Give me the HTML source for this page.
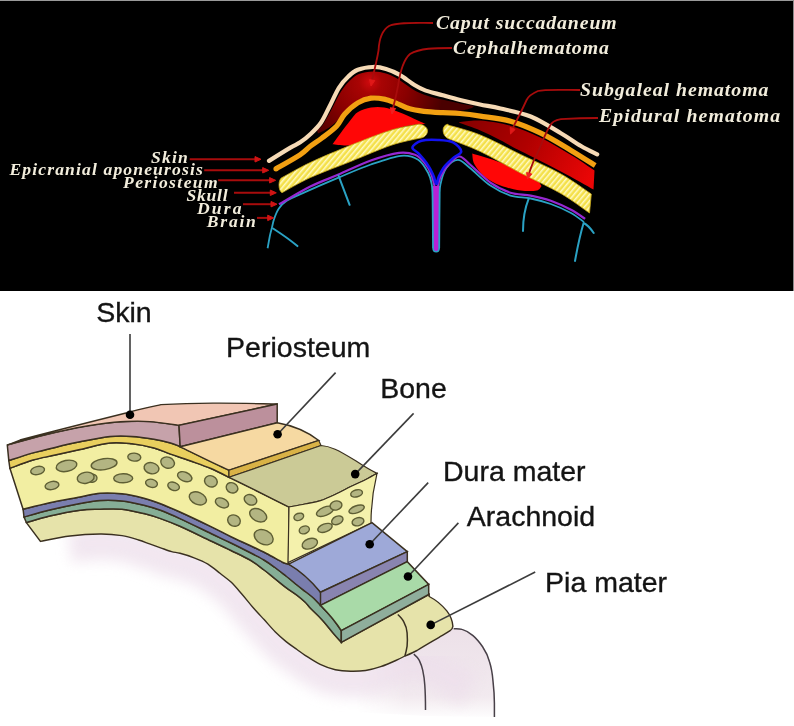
<!DOCTYPE html>
<html><head><meta charset="utf-8"><style>
html,body{margin:0;padding:0;background:#fff;}
svg{display:block;filter:blur(0.4px);}
</style></head><body>
<svg width="794" height="726" viewBox="0 0 794 726">
<rect width="794" height="726" fill="#fff"/>
<rect x="0" y="0" width="794" height="291" fill="#000"/>
<rect x="0" y="0" width="794" height="1" fill="#9a9a9a"/>
<rect x="793" y="0" width="1" height="291" fill="#8a8a8a"/>
<defs><radialGradient id="gcap" cx="370" cy="82" r="75" gradientUnits="userSpaceOnUse"><stop offset="0" stop-color="#d00a0e"/><stop offset="0.15" stop-color="#a80404"/><stop offset="0.5" stop-color="#8a0000"/><stop offset="1" stop-color="#4a0000"/></radialGradient><linearGradient id="gsub" x1="470" y1="120" x2="590" y2="185" gradientUnits="userSpaceOnUse"><stop offset="0" stop-color="#8a0000"/><stop offset="0.45" stop-color="#b00000"/><stop offset="1" stop-color="#ec0606"/></linearGradient><pattern id="hatch" patternUnits="userSpaceOnUse" width="4" height="4" patternTransform="rotate(40)"><rect width="4" height="4" fill="#f4e04a"/><rect x="0" y="0" width="1.5" height="4" fill="#fffac4"/></pattern></defs>
<path d="M317 130 C318 129.1 320.6 127.9 323 124.5 C325.4 121.1 328.5 115 331.5 109.5 C334.5 104 337.9 96.3 341 91.5 C344.1 86.7 347 83.4 350 80.5 C353 77.6 355.2 75.5 359 74 C362.8 72.5 368.5 71.6 373 71.5 C377.5 71.4 381.8 72.2 386 73.4 C390.2 74.7 393.5 76.3 398 79 C402.5 81.7 408.5 86.8 413 89.5 C417.5 92.2 420.2 93.3 425 95 C429.8 96.7 436.2 98.2 442 99.6 C447.8 101 454.7 102.5 460 103.6 C465.3 104.7 471.7 105.6 474 106 L472 108 C470 108.5 465 110.4 460 110.8 C455 111.2 448 110.5 442 110.2 C436 109.9 429.5 109.7 424 109 C418.5 108.3 413.7 107.6 409 106.2 C404.3 104.8 400.2 102.1 396 100.5 C391.8 98.9 388.2 97.5 384 96.8 C379.8 96 375.3 95.4 371 96 C366.7 96.6 362.2 97.8 358 100.5 C353.8 103.2 348.8 109.2 346 112 C343.2 114.8 344.2 114.5 341.5 117 C338.8 119.5 333.9 124.2 330 127 C326.1 129.8 320 132.4 318 133.5 Z" fill="url(#gcap)"/>
<path d="M332.5 144.3 C333.8 142.6 337 138.1 340 134 C343 129.9 347.6 123.7 350.6 120 C353.6 116.3 354.6 114.1 358 112 C361.4 109.9 366.6 108.3 371 107.6 C375.4 106.9 379.5 106.8 384.2 107.6 C388.9 108.4 394.2 110.4 399.3 112.3 C404.4 114.2 410.1 117 414.5 119 C418.9 121 423.9 123.2 425.8 124 L425.8 124 C423.2 124.2 415.8 124.5 410 125.5 C404.2 126.5 397.7 128 391 130.2 C384.3 132.4 376.7 136 370 138.5 C363.3 141 356.9 144.3 350.6 145.3 C344.4 146.3 335.5 144.5 332.5 144.3 Z" fill="#ff0606"/>
<path d="M459.1 122.2 C462.6 121.9 471.7 120 480.3 120.6 C488.9 121.2 500.4 122.9 510.5 125.8 C520.6 128.7 530.7 132.9 540.8 137.8 C550.9 142.7 562 149.6 571 155 C580 160.4 590.6 167.9 594.5 170.5 L593.5 189.5 C588.1 186.5 573 177.9 560.9 171.5 C548.8 165.1 530.8 156.2 520.6 151 C510.5 145.8 506.7 143.4 500 140 C493.3 136.6 487.1 133.4 480.3 130.5 C473.5 127.6 462.6 124.1 459.1 122.8 Z" fill="url(#gsub)"/>
<path d="M472.2 153.5 C476.9 155 491.8 159 500.5 162.5 C509.2 166 518.6 171.6 524.6 174.5 C530.6 177.4 533.9 178.1 536.7 180 C539.5 181.9 540.7 185 541.5 186 L541.5 186 C540.7 186.8 540.2 189.8 536.7 190.5 C533.2 191.2 526.6 191.3 520.6 190.5 C514.6 189.7 506.6 187.8 500.5 185.5 C494.4 183.2 488.7 180.1 484.3 176.5 C479.9 172.9 476.3 167.8 474.3 164 C472.3 160.2 472.6 155.2 472.2 153.5 Z" fill="#ff0606"/>
<path d="M269 160.9 C272.5 158.7 284.8 151 290 147.9 C295.2 144.8 296.9 144.5 300.2 142.3 C303.5 140.1 306.6 137.8 310 134.5 C313.4 131.2 317.7 127.3 320.9 122.7 C324.1 118.1 326.4 112.5 329.4 106.7 C332.4 100.9 335.8 92.8 338.9 87.8 C342 82.8 345.1 79.5 348.3 76.5 C351.5 73.5 353.7 71.4 357.8 69.8 C361.9 68.2 368.2 67.2 372.9 67 C377.6 66.8 381.7 67.6 386.1 68.9 C390.5 70.2 394.6 71.9 399.3 74.6 C404 77.3 410.1 82.3 414.5 85 C418.9 87.7 421.1 88.9 425.8 90.6 C430.5 92.3 437.1 93.7 442.8 95.3 C448.5 96.9 454 98.5 460.2 100 C466.4 101.5 473.3 103.1 480 104.5 C486.7 105.9 492.1 106.5 500.5 108.5 C508.9 110.5 520.6 112.4 530.7 116.5 C540.8 120.6 552.5 128.3 560.9 133.2 C569.3 138.1 575 142.5 581 146 C587 149.5 594.5 153 597.2 154.4" fill="none" stroke="#f6dab6" stroke-width="4.2" stroke-linecap="round"/>
<path d="M276 168.8 C280 166.5 294.3 158.7 300 154.9 C305.7 151.2 306.6 149.1 310.3 146.3 C314 143.5 317.6 141.3 322 138 C326.4 134.7 332.7 130.2 336.5 126.2 C340.3 122.2 341.1 118.1 344.6 114.2 C348.2 110.3 353.4 105.6 357.8 102.9 C362.2 100.2 366.6 98.8 371 98.2 C375.4 97.6 380.1 98.3 384.2 99.1 C388.3 99.9 391.5 101.3 395.6 102.9 C399.7 104.5 404.1 107.2 408.8 108.6 C413.5 110 418.2 110.7 423.9 111.4 C429.6 112.1 436.8 112.4 442.8 112.7 C448.8 113 453.8 112.9 460 113.5 C466.2 114.1 471.9 114.8 480.3 116.1 C488.7 117.4 500.4 118.4 510.5 121.2 C520.6 124 530.7 128.3 540.8 133.2 C550.9 138.1 561.9 145 571 150.4 C580.1 155.8 591.2 163 595.2 165.5" fill="none" stroke="#f2a012" stroke-width="5.2" stroke-linecap="butt"/>
<circle cx="276" cy="168.8" r="2.6" fill="#f2a012"/>
<path d="M282 177.6 C286.7 175.1 298.9 167.9 310.3 162.5 C321.7 157.1 337.2 150.7 350.6 145.3 C364.1 139.9 379.6 133.7 391 130.2 C402.4 126.7 414.3 125.2 419 124.2 C424 124.5 428 128 427.5 131.5 C427 135 424 138 419 138.3 C414.3 139.5 402.4 141.4 391 145.3 C379.6 149.2 364.1 156.1 350.6 161.5 C337.2 166.9 321.7 172.4 310.3 177.6 C298.9 182.8 286.7 190.2 282 192.7 C278 191 278 179 282 177.6 Z" fill="url(#hatch)" stroke="#c8a818" stroke-width="0.8" stroke-linejoin="round"/>
<path d="M448 125 C453.4 126.7 468.2 130.1 480.3 135 C492.4 139.9 507.2 148 520.6 154.5 C534 161 549.1 167.4 560.9 174 C572.7 180.6 586.2 190.7 591.3 194 L589.5 213 C584.7 209.8 572.4 200.2 560.9 193.5 C549.4 186.8 534 180 520.6 173 C507.2 166 492.4 157.2 480.3 151.5 C468.2 145.8 453.4 140.7 448 138.5 C442 136 441 125 448 124.2 Z" fill="url(#hatch)" stroke="#c8a818" stroke-width="0.8" stroke-linejoin="round"/>
<path d="M432.6 186 L433 248 C433.1 250.5 434.5 251.8 436.2 251.8 C437.9 251.8 439.1 250.5 439.2 248 L440 186 Z" fill="#b820d6"/>
<path d="M267.6 248.3 C268 246.3 269.1 239.7 269.8 236.2 C270.5 232.7 271.3 230.3 272 227.4 C272.7 224.5 273.1 221.7 274.2 218.6 C275.3 215.5 276.7 211.6 278.7 208.7 C280.7 205.8 282 203.8 286.4 201 C290.8 198.2 296.3 196 305 192.1 C313.7 188.2 327.5 182.2 338.5 177.6 C349.5 173 360.4 168.1 370.8 164.5 C381.2 160.9 393.1 156.6 401 155.8 C408.9 155 413.7 156.9 418.2 159.8 C422.7 162.7 425.9 168.9 428.2 173 C430.5 177.1 431.1 180.1 431.8 184.6 C432.5 189.1 432.4 189.4 432.6 200 C432.8 210.6 432.9 240 433 248" fill="none" stroke="#2aa2c4" stroke-width="1.8"/>
<path d="M439.2 248 C439.3 240 439.4 210.6 439.6 200 C439.8 189.4 439.3 189.9 440.4 184.6 C441.5 179.3 443.4 172.1 446.3 168 C449.2 163.9 453.9 159.8 457.9 159.8 C461.8 159.8 464.6 163.7 470 168 C475.4 172.3 483.6 181 490.4 185.6 C497.1 190.2 503.8 193.5 510.5 195.7 C517.2 197.8 524 197.1 530.7 198.5 C537.4 199.9 544.1 201.6 550.8 204 C557.5 206.4 565.5 210 571 213 C576.5 216 581.8 220.5 584 222" fill="none" stroke="#2aa2c4" stroke-width="1.8"/>
<path d="M433 248 C433.1 250.5 434.5 251.8 436.2 251.8 C437.9 251.8 439.1 250.5 439.2 248" fill="none" stroke="#2aa2c4" stroke-width="1.6"/>
<path d="M279 204.3 C284.2 201.4 300.4 191.6 310.3 186.6 C320.2 181.6 328.4 178.9 338.5 174.6 C348.6 170.2 360.7 164.1 370.8 160.5 C380.9 156.9 391.6 153.8 399 152.8 C406.4 151.9 410.7 153.1 415 154.8 C419.3 156.5 422.1 159.8 424.8 163.1 C427.6 166.4 429.9 170.9 431.5 174.7 C433.1 178.5 434 184.1 434.5 186" fill="none" stroke="#9628d2" stroke-width="2.2"/>
<path d="M437.8 186 C438.4 184.1 439.4 178.5 441.4 174.7 C443.4 170.9 446.7 166.1 449.7 163.1 C452.7 160.1 456.2 156.3 459.6 156.5 C463 156.7 464.9 160.2 470 164.5 C475.1 168.8 483.6 177.9 490.4 182.6 C497.1 187.3 503.8 190.5 510.5 192.7 C517.2 194.9 524 194.3 530.7 195.7 C537.4 197 544.1 198.5 550.8 200.8 C557.5 203.2 565.3 206.8 571 209.8 C576.7 212.8 582.8 217.4 585.1 218.9" fill="none" stroke="#9628d2" stroke-width="2.2"/>
<path d="M412.4 147.4 C412.9 145.3 417.2 142 421.5 140.8 C425.8 139.6 432.8 139.7 438 140 C443.2 140.3 449.1 140.5 453 142.4 C456.9 144.3 461.2 148.9 461.2 151.5 C461.2 154.1 455.8 155.7 453 158.2 C450.2 160.7 447.1 163.4 444.7 166.4 C442.3 169.4 440.3 173.5 438.9 176.4 C437.5 179.3 437.4 184.3 436.4 184 C435.4 183.7 434.8 178.2 433.1 174.7 C431.5 171.2 429 166.7 426.5 163.1 C424 159.5 420.6 155.8 418.2 153.2 C415.8 150.6 411.8 149.5 412.4 147.4 Z" fill="none" stroke="#1212f0" stroke-width="2.6"/>
<path d="M338.5 175.6 L349.6 204.8 M273.1 228.5 C280 233 288 238 297.4 246.1 M528.7 198.7 C525 208 523 220 523 231 M583.6 223 C580 235 577 250 575 261 M583.6 223 C588 225 591 229 593.7 233" fill="none" stroke="#2aa2c4" stroke-width="2" stroke-linecap="round"/>
<path d="M433 23 C415 23 398 22 389 26 C381 31 379 42 378.6 50 C377 60 374.5 70 372 80" fill="none" stroke="#a80c0c" stroke-width="1.8"/>
<path d="M371 86 L369.5 79.6 L374.8 80.6 Z" fill="#e01818" stroke="#e01818" stroke-width="1" stroke-linejoin="round"/>
<path d="M452 48 C435 48 420 48 410 54 C403 60 400 72 398 86 C396 97 394 104 392.5 110" fill="none" stroke="#a80c0c" stroke-width="1.8"/>
<path d="M392 114 L390.2 107.7 L395.6 108.5 Z" fill="#f02020" stroke="#f02020" stroke-width="1" stroke-linejoin="round"/>
<path d="M580 90 C565 90 545 89 538 91 C531 94 528 97 526.6 100 C522 110 518 118 514.6 124.2 L512 130" fill="none" stroke="#a80c0c" stroke-width="1.8"/>
<path d="M510.5 134 L510.2 127.4 L515.2 129.4 Z" fill="#e01818" stroke="#e01818" stroke-width="1" stroke-linejoin="round"/>
<path d="M598 118 C585 118 570 118.6 560.9 119.1 C555 120 551 123 549.8 126.2 C546 132 545 136 542.8 140.3 C539 150 537 155 534.7 158.4 C532 165 530 170 529 174" fill="none" stroke="#a80c0c" stroke-width="1.8"/>
<path d="M527.5 179 L526.6 172.5 L531.8 174 Z" fill="#f02020" stroke="#f02020" stroke-width="1" stroke-linejoin="round"/>
<line x1="189.7" y1="159.3" x2="256" y2="159.3" stroke="#a80c0c" stroke-width="2"/>
<path d="M261 159.3 L255 162 L255 156.6 Z" fill="#d01414" stroke="#d01414" stroke-width="1" stroke-linejoin="round"/>
<line x1="204.2" y1="170.3" x2="263.7" y2="170.3" stroke="#a80c0c" stroke-width="2"/>
<path d="M268.7 170.3 L262.7 173 L262.7 167.6 Z" fill="#d01414" stroke="#d01414" stroke-width="1" stroke-linejoin="round"/>
<line x1="218.1" y1="180.3" x2="270.6" y2="180.3" stroke="#a80c0c" stroke-width="2"/>
<path d="M275.6 180.3 L269.6 183 L269.6 177.6 Z" fill="#d01414" stroke="#d01414" stroke-width="1" stroke-linejoin="round"/>
<line x1="234" y1="192.8" x2="271.3" y2="192.8" stroke="#a80c0c" stroke-width="2"/>
<path d="M276.3 192.8 L270.3 195.5 L270.3 190.1 Z" fill="#d01414" stroke="#d01414" stroke-width="1" stroke-linejoin="round"/>
<line x1="243" y1="204.2" x2="272" y2="204.2" stroke="#a80c0c" stroke-width="2"/>
<path d="M277 204.2 L271 206.9 L271 201.5 Z" fill="#d01414" stroke="#d01414" stroke-width="1" stroke-linejoin="round"/>
<line x1="257" y1="217.9" x2="268.7" y2="217.9" stroke="#a80c0c" stroke-width="2"/>
<path d="M273.7 217.9 L267.7 220.6 L267.7 215.2 Z" fill="#d01414" stroke="#d01414" stroke-width="1" stroke-linejoin="round"/>
<text transform="translate(436 28.9) scale(1.1 1)" x="0" y="0" textLength="164.3" lengthAdjust="spacing" style="font-family:&quot;Liberation Serif&quot;,serif;font-style:italic;font-weight:bold;fill:#f2eddc;font-size:18px">Caput succadaneum</text>
<text transform="translate(453 54) scale(1.1 1)" x="0" y="0" textLength="141.7" lengthAdjust="spacing" style="font-family:&quot;Liberation Serif&quot;,serif;font-style:italic;font-weight:bold;fill:#f2eddc;font-size:18px">Cephalhematoma</text>
<text transform="translate(580 96.3) scale(1.1 1)" x="0" y="0" textLength="171.3" lengthAdjust="spacing" style="font-family:&quot;Liberation Serif&quot;,serif;font-style:italic;font-weight:bold;fill:#f2eddc;font-size:18px">Subgaleal hematoma</text>
<text transform="translate(599 121.5) scale(1.1 1)" x="0" y="0" textLength="164.6" lengthAdjust="spacing" style="font-family:&quot;Liberation Serif&quot;,serif;font-style:italic;font-weight:bold;fill:#f2eddc;font-size:18px">Epidural hematoma</text>
<text transform="translate(151 162.5) scale(1.1 1)" x="0" y="0" textLength="33.5" lengthAdjust="spacing" style="font-family:&quot;Liberation Serif&quot;,serif;font-style:italic;font-weight:bold;fill:#f2eddc;font-size:16px">Skin</text>
<text transform="translate(9.5 174.5) scale(1.1 1)" x="0" y="0" textLength="175.7" lengthAdjust="spacing" style="font-family:&quot;Liberation Serif&quot;,serif;font-style:italic;font-weight:bold;fill:#f2eddc;font-size:16px">Epicranial aponeurosis</text>
<text transform="translate(123 187.5) scale(1.1 1)" x="0" y="0" textLength="86.1" lengthAdjust="spacing" style="font-family:&quot;Liberation Serif&quot;,serif;font-style:italic;font-weight:bold;fill:#f2eddc;font-size:16px">Periosteum</text>
<text transform="translate(186.5 200.6) scale(1.1 1)" x="0" y="0" textLength="37.4" lengthAdjust="spacing" style="font-family:&quot;Liberation Serif&quot;,serif;font-style:italic;font-weight:bold;fill:#f2eddc;font-size:16px">Skull</text>
<text transform="translate(197 213.9) scale(1.1 1)" x="0" y="0" textLength="40.4" lengthAdjust="spacing" style="font-family:&quot;Liberation Serif&quot;,serif;font-style:italic;font-weight:bold;fill:#f2eddc;font-size:16px">Dura</text>
<text transform="translate(206.8 226.7) scale(1.1 1)" x="0" y="0" textLength="44.6" lengthAdjust="spacing" style="font-family:&quot;Liberation Serif&quot;,serif;font-style:italic;font-weight:bold;fill:#f2eddc;font-size:16px">Brain</text>
<defs><linearGradient id="gbrain" x1="0" y1="540" x2="0" y2="726" gradientUnits="userSpaceOnUse"><stop offset="0" stop-color="#efe2ee"/><stop offset="0.6" stop-color="#faf6fa"/><stop offset="1" stop-color="#ffffff"/></linearGradient><linearGradient id="gbrain2" x1="0" y1="625" x2="0" y2="720" gradientUnits="userSpaceOnUse"><stop offset="0" stop-color="#ece0e8"/><stop offset="0.75" stop-color="#f2eaef"/><stop offset="1" stop-color="#ffffff"/></linearGradient><linearGradient id="gmaskx" x1="355" y1="0" x2="405" y2="0" gradientUnits="userSpaceOnUse"><stop offset="0" stop-color="#000"/><stop offset="1" stop-color="#fff"/></linearGradient><filter id="blur2" x="-20%" y="-20%" width="140%" height="140%"><feGaussianBlur stdDeviation="2.5"/></filter><filter id="blur6" x="-20%" y="-20%" width="140%" height="140%"><feGaussianBlur stdDeviation="7"/></filter><filter id="blur8" x="-20%" y="-20%" width="140%" height="140%"><feGaussianBlur stdDeviation="9"/></filter><filter id="blur1" x="-20%" y="-20%" width="140%" height="140%"><feGaussianBlur stdDeviation="1.2"/></filter><linearGradient id="gshade" x1="0" y1="540" x2="0" y2="715" gradientUnits="userSpaceOnUse"><stop offset="0" stop-color="#efe4ef"/><stop offset="0.5" stop-color="#f6f0f6"/><stop offset="1" stop-color="#ffffff"/></linearGradient></defs>
<mask id="mbrain" maskUnits="userSpaceOnUse" x="0" y="0" width="794" height="726"><rect x="0" y="600" width="794" height="126" fill="url(#gmaskx)"/></mask>
<path d="M355 668 L380 662 L400 652 L430 632 L450 622 L453.7 628.8 C458 628.8 462 629 466 631 C473 635 478 640 482.6 646.7 C487 653 489 658 489.5 661.8 C492 672 493 681 493 681.1 C494 690 494.4 700 494.4 716.9 L425.5 716 L355 712 Z" fill="url(#gbrain2)" mask="url(#mbrain)"/>
<clipPath id="belowG"><path d="M40.5 541.4 C45.4 540.5 60.1 537.2 70 536 C79.9 534.8 91.3 534.1 100 534 C108.7 533.9 115.6 534.6 122 535.6 C128.4 536.6 134 538.6 138.6 540 C143.2 541.4 145.9 542.6 149.6 543.9 C153.3 545.2 156.9 546.5 160.6 547.8 C164.3 549.1 168.4 550.7 171.6 551.6 C174.8 552.5 176.2 552.3 180 553.3 C183.8 554.3 189.4 556 194.1 557.8 C198.8 559.6 203.6 561.5 207.9 564.1 C212.2 566.7 216.2 570.3 220 573.3 C223.8 576.3 227.3 578.6 231 582.1 C234.7 585.6 238.3 590 242 594.2 C245.7 598.4 249.3 603.3 253 607.5 C256.7 611.7 260.4 615.6 264.1 619.6 C267.8 623.6 271.4 628 275.1 631.7 C278.8 635.4 282.5 638.6 286.1 641.6 C289.8 644.6 293.8 647.2 297 649.5 C300.2 651.8 301.2 652.8 305.1 655.3 C309 657.8 315.2 662 320.2 664.4 C325.2 666.8 330.2 668.6 335.3 669.7 C340.4 670.8 345.4 671.1 350.5 671.2 C355.6 671.3 360.6 671.2 365.6 670.5 C370.6 669.8 375.7 668.4 380.7 666.7 C385.7 665 391.8 662.3 395.8 660.5 C399.8 658.7 403.4 656.8 404.9 656 L500 656 L500 726 L0 726 L0 541.4 Z"/></clipPath>
<g clip-path="url(#belowG)"><path d="M70 545 C75 544.7 91.3 543.1 100 543 C108.7 542.9 115.6 543.6 122 544.6 C128.4 545.6 134 547.6 138.6 549 C143.2 550.4 145.9 551.6 149.6 552.9 C153.3 554.2 156.9 555.5 160.6 556.8 C164.3 558.1 168.4 559.7 171.6 560.6 C174.8 561.5 176.2 561.3 180 562.3 C183.8 563.3 189.4 565 194.1 566.8 C198.8 568.6 203.6 570.5 207.9 573.1 C212.2 575.7 216.2 579.3 220 582.3 C223.8 585.3 227.3 587.6 231 591.1 C234.7 594.6 238.3 599 242 603.2 C245.7 607.4 249.3 612.3 253 616.5 C256.7 620.7 260.4 624.6 264.1 628.6 C267.8 632.6 271.4 637 275.1 640.7 C278.8 644.4 282.5 647.6 286.1 650.6 C289.8 653.6 293.8 656.2 297 658.5 C300.2 660.8 301.2 661.8 305.1 664.3 C309 666.8 315.2 671 320.2 673.4 C325.2 675.8 330.2 677.6 335.3 678.7 C340.4 679.8 345.4 680.1 350.5 680.2 C355.6 680.3 360.6 680.2 365.6 679.5 C370.6 678.8 375.7 677.4 380.7 675.7 C385.7 674 391.8 671.3 395.8 669.5 C399.8 667.7 399.2 665.2 404.9 665 C410.6 664.8 419.1 663.8 430 668 C440.9 672.2 463.3 686.3 470 690" fill="none" stroke="#eddfeb" stroke-width="34" filter="url(#blur6)" opacity="0.75"/></g>
<path d="M413.8 654.2 C416 656 418 658 419.3 660.4 C421 664 422 667 422.7 670.1 C424 676 424.5 680 424.8 685.2 C425.3 692 425.5 699 425.5 710 M453.7 628.8 C457 628.6 460 628.8 462 629.4 C466 630.5 470 633 473 635.6 C477 639 480 643 482.6 646.7 C485.5 651 488 656 489.5 661.8 C491.5 668 492.5 675 493 681.1 C494 690 494.4 697 494.4 703.1 L494.4 716.9" fill="none" stroke="#484048" stroke-width="1.5"/>
<path d="M26.4 522.6 C30.3 521.5 40.7 518.1 49.6 516 C58.5 513.9 71.6 511.3 80 510.2 C88.4 509.1 93 509.4 100 509.2 C107 509 114.7 508.5 122 509.2 C129.3 509.9 137.6 512 144 513.6 C150.4 515.2 154.6 516.5 160.6 518.6 C166.6 520.7 171.6 522.6 180 526.3 C188.4 530 202.5 537 211 541 C219.5 545 224.5 547.3 231 550.5 C237.5 553.7 244.5 556.8 250 560 C255.5 563.2 259.9 566.9 264.1 570 C268.3 573.1 271.4 575.9 275.1 578.8 C278.8 581.7 282.4 584.9 286.1 587.6 C289.8 590.4 294 592.9 297.1 595.3 C300.2 597.7 302.7 599.8 305 602 C307.3 604.2 308.2 605.8 311 608.7 C313.8 611.7 318.3 615.7 322 619.7 C325.7 623.7 329.8 629.1 333 632.9 C336.2 636.7 339.9 640.7 341.3 642.3 L429.2 594.3 L429.2 596.5 C435 599.5 442 605 446.8 610.9 C450 615 452.5 620 452.9 626.3 C452.5 628.5 451.5 629.8 450.1 630.7 C446 633.5 443 635 439.1 637.3 C432 641.5 424 646 417 650.5 C412 653 408 655 404.9 656 C403.4 656.8 399.8 658.7 395.8 660.5 C391.8 662.3 385.7 665 380.7 666.7 C375.7 668.4 370.6 669.8 365.6 670.5 C360.6 671.2 355.6 671.3 350.5 671.2 C345.4 671.1 340.4 670.8 335.3 669.7 C330.2 668.6 325.2 666.8 320.2 664.4 C315.2 662 309 657.8 305.1 655.3 C301.2 652.8 300.2 651.8 297 649.5 C293.8 647.2 289.8 644.6 286.1 641.6 C282.5 638.6 278.8 635.4 275.1 631.7 C271.4 628 267.8 623.6 264.1 619.6 C260.4 615.6 256.7 611.7 253 607.5 C249.3 603.3 245.7 598.4 242 594.2 C238.3 590 234.7 585.6 231 582.1 C227.3 578.6 223.8 576.3 220 573.3 C216.2 570.3 212.2 566.7 207.9 564.1 C203.6 561.5 198.8 559.6 194.1 557.8 C189.4 556 183.8 554.3 180 553.3 C176.2 552.3 174.8 552.5 171.6 551.6 C168.4 550.7 164.3 549.1 160.6 547.8 C156.9 546.5 153.3 545.2 149.6 543.9 C145.9 542.6 143.2 541.4 138.6 540 C134 538.6 128.4 536.6 122 535.6 C115.6 534.6 108.7 533.9 100 534 C91.3 534.1 79.9 534.8 70 536 C60.1 537.2 45.4 540.5 40.5 541.4 Z" fill="#e6e3aa" stroke="#3a3020" stroke-width="1.4"/>
<path d="M397.8 614.5 C401 617.5 403 620 403.8 621.9 C406 626 407 630 407.1 632.9 C407.5 638 407.5 642 407.1 646.1 C406.5 650 405.8 653 404.9 656" fill="none" stroke="#3a3020" stroke-width="1.5"/>
<path d="M24 517 C28.3 515.8 40.3 512.2 49.6 510 C58.9 507.8 71.6 505.1 80 503.5 C88.4 501.9 93 500.8 100 500.4 C107 500 114.7 500.1 122 500.9 C129.3 501.7 137.6 503.7 144 505.3 C150.4 506.9 154.6 508.1 160.6 510.3 C166.6 512.5 171.6 514.7 180 518.6 C188.4 522.5 202.5 529.4 211 533.5 C219.5 537.6 224.5 539.8 231 543 C237.5 546.2 244.5 549.7 250 552.5 C255.5 555.3 259.8 557.5 264 560 C268.2 562.5 271.3 564.8 275 567.5 C278.7 570.2 282.3 573.1 286 576 C289.7 578.9 293.7 582.3 297 585 C300.3 587.7 303.2 589.8 306 592 C308.8 594.2 311.6 596.3 314 598.5 C316.4 600.7 317.7 602.3 320.5 605.3 C323.3 608.3 327.4 612.2 330.9 616.4 C334.4 620.6 339.6 628.3 341.3 630.7 L341.3 642.3 C339.9 640.7 336.2 636.7 333 632.9 C329.8 629.1 325.7 623.7 322 619.7 C318.3 615.7 313.8 611.7 311 608.7 C308.2 605.8 307.3 604.2 305 602 C302.7 599.8 300.2 597.7 297.1 595.3 C294 592.9 289.8 590.4 286.1 587.6 C282.4 584.9 278.8 581.7 275.1 578.8 C271.4 575.9 268.3 573.1 264.1 570 C259.9 566.9 255.5 563.2 250 560 C244.5 556.8 237.5 553.7 231 550.5 C224.5 547.3 219.5 545 211 541 C202.5 537 188.4 530 180 526.3 C171.6 522.6 166.6 520.7 160.6 518.6 C154.6 516.5 150.4 515.2 144 513.6 C137.6 512 129.3 509.9 122 509.2 C114.7 508.5 107 509 100 509.2 C93 509.4 88.4 509.1 80 510.2 C71.6 511.3 58.5 513.9 49.6 516 C40.7 518.1 30.3 521.5 26.4 522.6 Z" fill="#86ae96" stroke="#3a3020" stroke-width="1.5"/>
<path d="M23.1 509.3 C27.5 508.2 40.1 504.8 49.6 502.7 C59.1 500.6 71.6 498.6 80 497 C88.4 495.4 93 493.7 100 493.2 C107 492.7 114.7 493 122 493.8 C129.3 494.6 137.6 496.6 144 498.2 C150.4 499.8 154.6 501.4 160.6 503.7 C166.6 506 171.6 508.2 180 512 C188.4 515.8 202.5 522.5 211 526.6 C219.5 530.7 224.5 533.6 231 536.7 C237.5 539.9 244.1 542.7 250 545.5 C255.9 548.3 261 550.7 266.5 553.5 C272 556.3 279.3 560.7 283 562.5 C286.7 564.3 285.8 562.8 288.6 564.2 C291.4 565.6 296.3 568.4 299.6 570.8 C302.9 573.2 305.6 575.9 308.4 578.5 C311.1 581.1 314.1 583.9 316.1 586.2 C318.1 588.5 319.8 591.3 320.5 592.3 L330.9 616.4 C329.2 614.5 323.3 608.3 320.5 605.3 C317.7 602.3 316.4 600.7 314 598.5 C311.6 596.3 308.8 594.2 306 592 C303.2 589.8 300.3 587.7 297 585 C293.7 582.3 289.7 578.9 286 576 C282.3 573.1 278.7 570.2 275 567.5 C271.3 564.8 268.2 562.5 264 560 C259.8 557.5 255.5 555.3 250 552.5 C244.5 549.7 237.5 546.2 231 543 C224.5 539.8 219.5 537.6 211 533.5 C202.5 529.4 188.4 522.5 180 518.6 C171.6 514.7 166.6 512.5 160.6 510.3 C154.6 508.1 150.4 506.9 144 505.3 C137.6 503.7 129.3 501.7 122 500.9 C114.7 500.1 107 500 100 500.4 C93 500.8 88.4 501.9 80 503.5 C71.6 505.1 58.9 507.8 49.6 510 C40.3 512.2 28.3 515.8 24 517 Z" fill="#7a7eae" stroke="#3a3020" stroke-width="1.5"/>
<path d="M9.9 468.3 C13.8 466.9 25.5 462.2 33 460 C40.5 457.8 47.3 456.9 55.1 455.1 C62.9 453.4 70.8 451.5 80 449.5 C89.2 447.5 101.3 443.9 110 443 C118.7 442.1 124.7 443 132 443.8 C139.3 444.6 147.6 446.3 154 448 C160.4 449.7 164.6 452 170.6 454.1 C176.6 456.2 183.3 458.4 190 460.8 C196.7 463.2 204.5 465.8 211 468.5 C217.5 471.2 220.8 473.3 229 477.3 C237.2 481.3 250 487.6 260 492.5 C270 497.4 284.2 504.6 289 507 L288.6 564.2 C287.7 563.9 286.7 564.3 283 562.5 C279.3 560.7 272 556.3 266.5 553.5 C261 550.7 255.9 548.3 250 545.5 C244.1 542.7 237.5 539.9 231 536.7 C224.5 533.6 219.5 530.7 211 526.6 C202.5 522.5 188.4 515.8 180 512 C171.6 508.2 166.6 506 160.6 503.7 C154.6 501.4 150.4 499.8 144 498.2 C137.6 496.6 129.3 494.6 122 493.8 C114.7 493 107 492.7 100 493.2 C93 493.7 88.4 495.4 80 497 C71.6 498.6 59.1 500.6 49.6 502.7 C40.1 504.8 27.5 508.2 23.1 509.3 Z" fill="#f2eea2" stroke="#3a3020" stroke-width="1.5"/>
<path d="M8.8 460.6 C12.8 459.3 25.3 455.1 33 452.9 C40.7 450.7 47.3 449.2 55.1 447.4 C62.9 445.5 70.8 443.6 80 441.8 C89.2 440 101.3 437.4 110 436.5 C118.7 435.6 124.7 435.9 132 436.4 C139.3 436.8 147.6 438.1 154 439.2 C160.4 440.3 166.2 441.8 170.6 443 C175 444.2 174.5 443.9 180.2 446.5 C185.9 449.1 196.9 454.6 205 458.5 C213.1 462.4 225 468.2 229 470.2 L229 477.3 C226 475.8 217.5 471.2 211 468.5 C204.5 465.8 196.7 463.2 190 460.8 C183.3 458.4 176.6 456.2 170.6 454.1 C164.6 452 160.4 449.7 154 448 C147.6 446.3 139.3 444.6 132 443.8 C124.7 443 118.7 442.1 110 443 C101.3 443.9 89.2 447.5 80 449.5 C70.8 451.5 62.9 453.4 55.1 455.1 C47.3 456.9 40.5 457.8 33 460 C25.5 462.2 13.8 466.9 9.9 468.3 Z" fill="#e9cf5e" stroke="#3a3020" stroke-width="1.5"/>
<path d="M7.3 445 C12.5 443.6 26.9 439.3 38.5 436.4 C50.1 433.5 66.8 429.8 77 427.7 C87.2 425.6 91.8 424.9 100 423.9 C108.2 422.9 117.7 421.9 126 421.5 C134.3 421.1 141.2 421 150 421.6 C158.8 422.2 174.2 424.7 179 425.3 L180.2 446.5 C178.6 445.9 175 444.2 170.6 443 C166.2 441.8 160.4 440.3 154 439.2 C147.6 438.1 139.3 436.8 132 436.4 C124.7 435.9 118.7 435.6 110 436.5 C101.3 437.4 89.2 440 80 441.8 C70.8 443.6 62.9 445.5 55.1 447.4 C47.3 449.2 40.7 450.7 33 452.9 C25.3 455.1 12.8 459.3 8.8 460.6 Z" fill="#c6a2aa" stroke="#3a3020" stroke-width="1.5"/>
<path d="M7.3 445 C12.5 443.6 26.9 439.3 38.5 436.4 C50.1 433.5 66.8 429.8 77 427.7 C87.2 425.6 91.8 424.9 100 423.9 C108.2 422.9 117.7 421.9 126 421.5 C134.3 421.1 141.2 421 150 421.6 C158.8 422.2 174.2 424.7 179 425.3 L277.2 404 C250 403.5 230 403 213 403.2 C190 403.5 175 404 161 404.6 C145 408 135 410 126 413 C90 422 50 432 20 440 Z" fill="#f1c6b4" stroke="#3a3020" stroke-width="1.3"/>
<path d="M179 425.3 L277.2 404 L277.2 422.8 L180.2 446.8 Z" fill="#bc909c" stroke="#3a3020" stroke-width="1.5"/>
<path d="M180.2 446.8 L277.2 422.8 C290 425 305 430 318.8 440.5 L229 470.2 C215 464 197 455 180.2 446.8 Z" fill="#f6d9a2" stroke="#3a3020" stroke-width="1.5"/>
<path d="M229 470.2 L318.8 440.5 L321 445.5 L229 477.3 Z" fill="#d9b246" stroke="#3a3020" stroke-width="1.1"/>
<path d="M229 477.3 L321 445.5 C330 446 338 450 355.7 460.8 C362 465 370 470 377 473.4 C374.8 474.6 368.4 478.3 364 480.5 C359.6 482.7 355.5 484.2 350.8 486.5 C346.1 488.8 341.1 491.6 336 494 C330.9 496.4 325.7 498.9 320.5 500.6 C315.3 502.3 310.2 502.9 305 504 C299.8 505.1 291.7 506.5 289 507 C270 498 250 487 229 477.3 Z" fill="#cbca96" stroke="#3a3020" stroke-width="1.2"/>
<path d="M289 507 C291.7 506.5 299.8 505.1 305 504 C310.2 502.9 315.3 502.3 320.5 500.6 C325.7 498.9 330.9 496.4 336 494 C341.1 491.6 346.1 488.8 350.8 486.5 C355.5 484.2 359.6 482.7 364 480.5 C368.4 478.3 374.8 474.6 377 473.4 C373 490 371 505 371 523.3 L288 562.6 Z" fill="#f4f1ac" stroke="#3a3020" stroke-width="1.2"/>
<path d="M288.6 564.2 L372 522.7 L407.3 551.6 L320.5 592.3 C312 582 302 572 288.6 564.2 Z" fill="#9ea9d8" stroke="#3a3020" stroke-width="1.5"/>
<path d="M320.5 592.3 L407.3 551.6 L407.3 561.7 L320.5 605.3 Z" fill="#8984b0" stroke="#3a3020" stroke-width="1.5"/>
<path d="M320.5 605.3 L407.3 561.7 L428.7 584.4 L341.3 630.7 C336 622 328 613 320.5 605.3 Z" fill="#a9daa8" stroke="#3a3020" stroke-width="1.5"/>
<path d="M341.3 630.7 L428.7 584.4 L428.7 594.5 L341.3 642.3 Z" fill="#8fae9c" stroke="#3a3020" stroke-width="1.5"/>
<g fill="#b3b582" stroke="#5e5e34" stroke-width="1.4"><ellipse transform="rotate(-8.4 104.1 464.2)" cx="104.1" cy="464.2" rx="13" ry="5.5"/><ellipse transform="rotate(4.3 134.3 457.1)" cx="134.3" cy="457.1" rx="6.5" ry="4"/><ellipse transform="rotate(13.5 151.5 468.2)" cx="151.5" cy="468.2" rx="7.5" ry="5.5"/><ellipse transform="rotate(19.1 167.6 462.6)" cx="167.6" cy="462.6" rx="7" ry="5.5"/><ellipse transform="rotate(-10.3 92 478.3)" cx="92" cy="478.3" rx="5" ry="4"/><ellipse transform="rotate(-0.7 123.2 478.3)" cx="123.2" cy="478.3" rx="9.5" ry="4.5"/><ellipse transform="rotate(13.5 151.5 483.3)" cx="151.5" cy="483.3" rx="6" ry="4"/><ellipse transform="rotate(20 173.6 486.3)" cx="173.6" cy="486.3" rx="6" ry="4"/><ellipse transform="rotate(21.7 184.7 476.7)" cx="184.7" cy="476.7" rx="7.5" ry="4.5"/><ellipse transform="rotate(24.5 210.9 481.3)" cx="210.9" cy="481.3" rx="6.5" ry="5.5"/><ellipse transform="rotate(25.6 232 487.8)" cx="232" cy="487.8" rx="6" ry="5"/><ellipse transform="rotate(23.7 197.8 498.4)" cx="197.8" cy="498.4" rx="9" ry="6"/><ellipse transform="rotate(25.1 222 502.9)" cx="222" cy="502.9" rx="7" ry="4.5"/><ellipse transform="rotate(25.7 234 520.6)" cx="234" cy="520.6" rx="6.5" ry="5.5"/><ellipse transform="rotate(26.5 250.5 499.8)" cx="250.5" cy="499.8" rx="6.5" ry="5"/><ellipse transform="rotate(26.9 258.2 515.2)" cx="258.2" cy="515.2" rx="9" ry="6"/><ellipse transform="rotate(27 263.7 537.2)" cx="263.7" cy="537.2" rx="10" ry="7"/><ellipse transform="rotate(-12.3 37.6 470.5)" cx="37.6" cy="470.5" rx="7" ry="4"/><ellipse transform="rotate(-11.3 66.5 465.9)" cx="66.5" cy="465.9" rx="10.5" ry="5.5"/><ellipse transform="rotate(-11.8 52 485.5)" cx="52" cy="485.5" rx="7" ry="4"/><ellipse transform="rotate(-10.5 85.7 477.8)" cx="85.7" cy="477.8" rx="8.5" ry="5.5"/></g>
<g fill="#b3b582" stroke="#5e5e34" stroke-width="1.4"><ellipse transform="rotate(-20 298.8 516.8)" cx="298.8" cy="516.8" rx="5" ry="3.5"/><ellipse transform="rotate(-20 304.3 529.9)" cx="304.3" cy="529.9" rx="5.2" ry="3.8"/><ellipse transform="rotate(-20 309.8 543.7)" cx="309.8" cy="543.7" rx="8" ry="5"/><ellipse transform="rotate(-22 325 511.3)" cx="325" cy="511.3" rx="9" ry="4.2"/><ellipse transform="rotate(-15 336 505.5)" cx="336" cy="505.5" rx="6" ry="4.5"/><ellipse transform="rotate(-20 325 527.9)" cx="325" cy="527.9" rx="7.5" ry="4"/><ellipse transform="rotate(-25 337.3 520.3)" cx="337.3" cy="520.3" rx="6" ry="4"/><ellipse transform="rotate(-15 356.6 493.4)" cx="356.6" cy="493.4" rx="6" ry="3.5"/><ellipse transform="rotate(-20 356.6 509.3)" cx="356.6" cy="509.3" rx="8" ry="3.5"/><ellipse transform="rotate(-15 358 521.7)" cx="358" cy="521.7" rx="6" ry="4"/></g>
<line x1="130" y1="334" x2="130" y2="414.7" stroke="#3c3c3c" stroke-width="1.6"/>
<circle cx="130" cy="414.7" r="4.3" fill="#000"/>
<line x1="335.6" y1="372.6" x2="277.6" y2="434.3" stroke="#3c3c3c" stroke-width="1.6"/>
<circle cx="277.6" cy="434.3" r="4.3" fill="#000"/>
<line x1="413.6" y1="413.4" x2="355.2" y2="474.1" stroke="#3c3c3c" stroke-width="1.6"/>
<circle cx="355.2" cy="474.1" r="4.3" fill="#000"/>
<line x1="428.2" y1="482.6" x2="369.7" y2="544.3" stroke="#3c3c3c" stroke-width="1.6"/>
<circle cx="369.7" cy="544.3" r="4.3" fill="#000"/>
<line x1="458.4" y1="522.9" x2="408" y2="576.5" stroke="#3c3c3c" stroke-width="1.6"/>
<circle cx="408" cy="576.5" r="4.3" fill="#000"/>
<line x1="535.2" y1="572" x2="430.7" y2="624.9" stroke="#3c3c3c" stroke-width="1.6"/>
<circle cx="430.7" cy="624.9" r="4.3" fill="#000"/>
<text x="96.2" y="322.2" style="font-family:&quot;Liberation Sans&quot;,sans-serif;font-size:28.5px;fill:#141414;stroke:#141414;stroke-width:0.35px">Skin</text>
<text x="226.1" y="356.8" style="font-family:&quot;Liberation Sans&quot;,sans-serif;font-size:28.5px;fill:#141414;stroke:#141414;stroke-width:0.35px">Periosteum</text>
<text x="380.2" y="398.2" style="font-family:&quot;Liberation Sans&quot;,sans-serif;font-size:28.5px;fill:#141414;stroke:#141414;stroke-width:0.35px">Bone</text>
<text x="443" y="481.2" style="font-family:&quot;Liberation Sans&quot;,sans-serif;font-size:28.5px;fill:#141414;stroke:#141414;stroke-width:0.35px">Dura mater</text>
<text x="466.8" y="526.4" style="font-family:&quot;Liberation Sans&quot;,sans-serif;font-size:28.5px;fill:#141414;stroke:#141414;stroke-width:0.35px">Arachnoid</text>
<text x="545.1" y="591.6" style="font-family:&quot;Liberation Sans&quot;,sans-serif;font-size:28.5px;fill:#141414;stroke:#141414;stroke-width:0.35px">Pia mater</text>
</svg>
</body></html>
